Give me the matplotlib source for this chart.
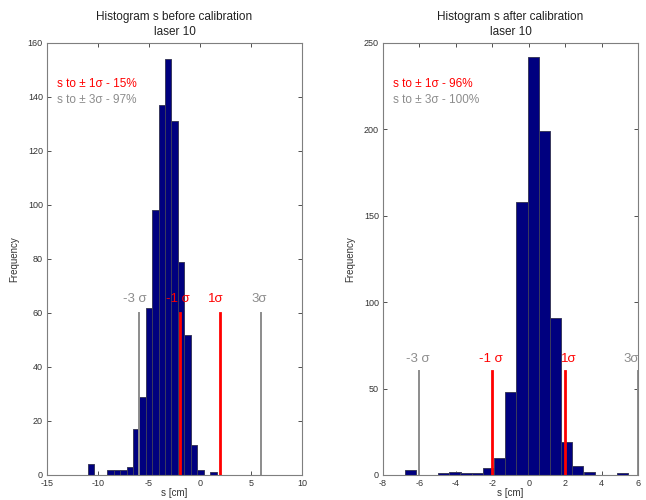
import matplotlib
matplotlib.use("Agg")
import matplotlib.pyplot as plt

plt.rcParams['font.family'] = ['Liberation Sans', 'DejaVu Sans']
plt.rcParams['axes.unicode_minus'] = False

# histogram before calibration (bin centres, counts)
before_centers = [-10.67, -8.78, -8.15, -7.52, -6.89, -6.26, -5.63, -5.00, -4.37,
                  -3.74, -3.11, -2.48, -1.85, -1.22, -0.59, 0.04, 1.31]
before_counts = [4, 2, 2, 2, 3, 17, 29, 62, 98, 137, 154, 131, 79, 52, 11, 2, 1]
before_width = 0.631

# histogram after calibration
after_centers = [-6.51, -4.67, -4.05, -3.44, -2.82, -2.21, -1.60, -0.98, -0.37,
                 0.25, 0.86, 1.48, 2.09, 2.70, 3.32, 5.16]
after_counts = [3, 1, 2, 1, 1, 4, 10, 48, 158, 242, 199, 91, 19, 5, 2, 1]
after_width = 0.614

sigma_pos = [-6, -2, 2, 6]
sigma_names = ["-3 σ", "-1 σ", "1σ", "3σ"]
sigma_colors = ["#8c8c8c", "#ff0000", "#ff0000", "#8c8c8c"]
sigma_line_h = 60

titles = ["Histogram s before calibration\nlaser 10", "Histogram s after calibration\nlaser 10"]
info_1s = ["s to ± 1σ - 15%", "s to ± 1σ - 96%"]
info_3s = ["s to ± 3σ - 97%", "s to ± 3σ - 100%"]

NAVY = "#00007f"
GREY = "#8c8c8c"

fig = plt.figure(figsize=(6.46, 5.0), dpi=100)
ax1 = fig.add_axes([47 / 646, 25 / 500, 255 / 646, 432 / 500])
ax2 = fig.add_axes([383 / 646, 25 / 500, 255 / 646, 432 / 500])


def draw_panel(ax, centers, counts, width, xlim, xticks, ylim, yticks,
               title, t1, t3, label_x, label_y):
    ax.bar(centers, counts, width=width, color=NAVY, edgecolor="#3a3a5e",
           linewidth=0.7, zorder=2)
    for x, name, c, lx in zip(sigma_pos, sigma_names, sigma_colors, label_x):
        lw = 1.4 if c == GREY else 2.0
        ax.plot([x, x], [0, sigma_line_h], color=c, lw=lw, zorder=3)
        ax.text(lx, label_y, name, color=c, fontsize=9.5, ha="center", va="center")
    ax.set_xlim(*xlim)
    ax.set_ylim(*ylim)
    ax.set_xticks(xticks)
    ax.set_yticks(yticks)
    ax.tick_params(direction="in", length=3, width=0.6, labelsize=6.5,
                   colors="#333333", top=True, right=True)
    ax.tick_params(axis="x", pad=3)
    ax.tick_params(axis="y", pad=3)
    for sp in ax.spines.values():
        sp.set_color("#7f7f7f")
        sp.set_linewidth(0.8)
    ax.set_title(title, fontsize=8.5, color="#222222", pad=6, linespacing=1.3)
    ax.set_xlabel("s [cm]", fontsize=7, color="#333333", labelpad=0)
    ax.set_ylabel("Frequency", fontsize=7, color="#333333", labelpad=6)
    ax.text(0.04, 0.905, t1, transform=ax.transAxes, color="#ff0000", fontsize=8.5,
            va="center")
    ax.text(0.04, 0.868, t3, transform=ax.transAxes, color=GREY, fontsize=8.5,
            va="center")


draw_panel(ax1, before_centers, before_counts, before_width, (-15, 10),
           [-15, -10, -5, 0, 5, 10], (0, 160), list(range(0, 161, 20)),
           titles[0], info_1s[0], info_3s[0], [-6.4, -2.15, 1.55, 5.8], 65)
draw_panel(ax2, after_centers, after_counts, after_width, (-8, 6),
           list(range(-8, 7, 2)), (0, 250), list(range(0, 251, 50)),
           titles[1], info_1s[1], info_3s[1], [-6.1, -2.1, 2.2, 5.6], 67)

fig.savefig("out.png", dpi=100)
